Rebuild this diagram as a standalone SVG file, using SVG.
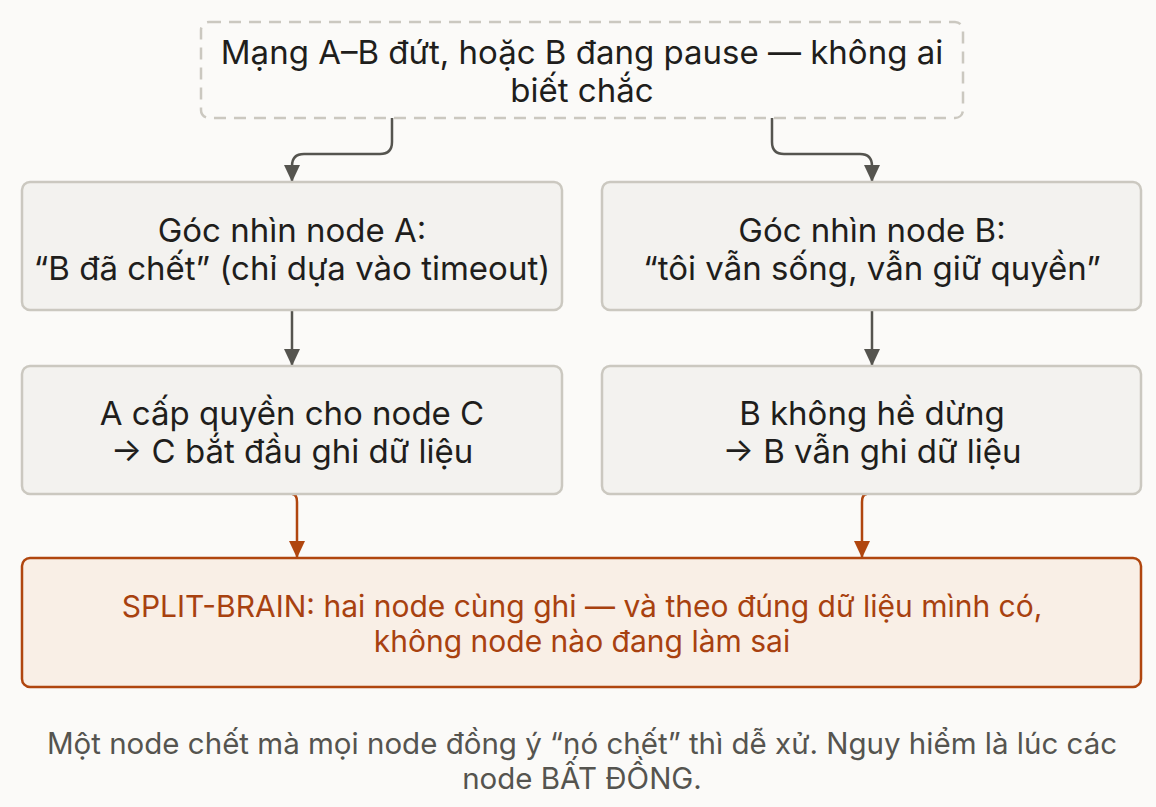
<svg xmlns="http://www.w3.org/2000/svg" width="1156" height="807" viewBox="0 0 1156 807">
<defs>
<marker id="ag" markerUnits="userSpaceOnUse" markerWidth="18" markerHeight="18" viewBox="0 0 18 18" refX="17" refY="9" orient="auto"><path d="M0,1 L17,9 L0,17 z" fill="#55544f"/></marker>
<marker id="ao" markerUnits="userSpaceOnUse" markerWidth="18" markerHeight="18" viewBox="0 0 18 18" refX="17" refY="9" orient="auto"><path d="M0,1 L17,9 L0,17 z" fill="#b0460f"/></marker>
</defs>
<style>
text{font-family:Inter,"Noto Sans","DejaVu Sans",sans-serif;text-anchor:middle}
.t{font-size:33px;fill:#1f1e1c}
.box{fill:#f3f2ef;stroke:#cbc8c0;stroke-width:2.5}
.top{fill:#fbfaf8;stroke:#cbc8c0;stroke-width:2.5;stroke-dasharray:12 8}
.split{fill:#f9efe6;stroke:#b0460f;stroke-width:2.5}
.st{font-size:30px;fill:#a8410f}
.cap{font-size:29.5px;fill:#55544f}
.cg{fill:none;stroke:#55544f;stroke-width:2.5}
.co{fill:none;stroke:#b0460f;stroke-width:2.5}
</style>
<rect width="1156" height="807" fill="#fbfaf8"/>
<g id="connectors">
<path class="cg" marker-end="url(#ag)" d="M392,118 V142 Q392,154 380,154 H304 Q292,154 292,166 V182"/>
<path class="cg" marker-end="url(#ag)" d="M772,118 V142 Q772,154 784,154 H860 Q872,154 872,166 V182"/>
<path class="cg" marker-end="url(#ag)" d="M292,310 V366"/>
<path class="cg" marker-end="url(#ag)" d="M872,310 V366"/>
<path class="co" marker-end="url(#ao)" d="M292,494 Q297,494 297,502 V558"/>
<path class="co" marker-end="url(#ao)" d="M867,494 Q862,494 862,502 V558"/>
</g>
<g id="top">
<rect class="top" x="201" y="22" width="762" height="96" rx="8"/>
<text class="t" x="582" y="64">Mạng A–B đứt, hoặc B đang pause — không ai</text>
<text class="t" x="582" y="102">biết chắc</text>
</g>
<g id="nodeA">
<rect class="box" x="22" y="182" width="540" height="128" rx="8"/>
<text class="t" x="292" y="242">Góc nhìn node A:</text>
<text class="t" x="292" y="280">“B đã chết” (chỉ dựa vào timeout)</text>
</g>
<g id="nodeB">
<rect class="box" x="602" y="182" width="539" height="128" rx="8"/>
<text class="t" x="872" y="242">Góc nhìn node B:</text>
<text class="t" x="872" y="280">“tôi vẫn sống, vẫn giữ quyền”</text>
</g>
<g id="nodeC">
<rect class="box" x="22" y="366" width="540" height="128" rx="8"/>
<text class="t" x="292" y="425">A cấp quyền cho node C</text>
<text class="t" x="292" y="463">→ C bắt đầu ghi dữ liệu</text>
</g>
<g id="nodeB2">
<rect class="box" x="602" y="366" width="539" height="128" rx="8"/>
<text class="t" x="872" y="425">B không hề dừng</text>
<text class="t" x="872" y="463">→ B vẫn ghi dữ liệu</text>
</g>
<g id="split">
<rect class="split" x="22" y="558" width="1119" height="129" rx="8"/>
<text class="st" x="582" y="617">SPLIT-BRAIN: hai node cùng ghi — và theo đúng dữ liệu mình có,</text>
<text class="st" x="582" y="652">không node nào đang làm sai</text>
</g>
<g id="caption">
<text class="cap" x="582" y="754">Một node chết mà mọi node đồng ý “nó chết” thì dễ xử. Nguy hiểm là lúc các</text>
<text class="cap" x="582" y="789">node BẤT ĐỒNG.</text>
</g>
</svg>
